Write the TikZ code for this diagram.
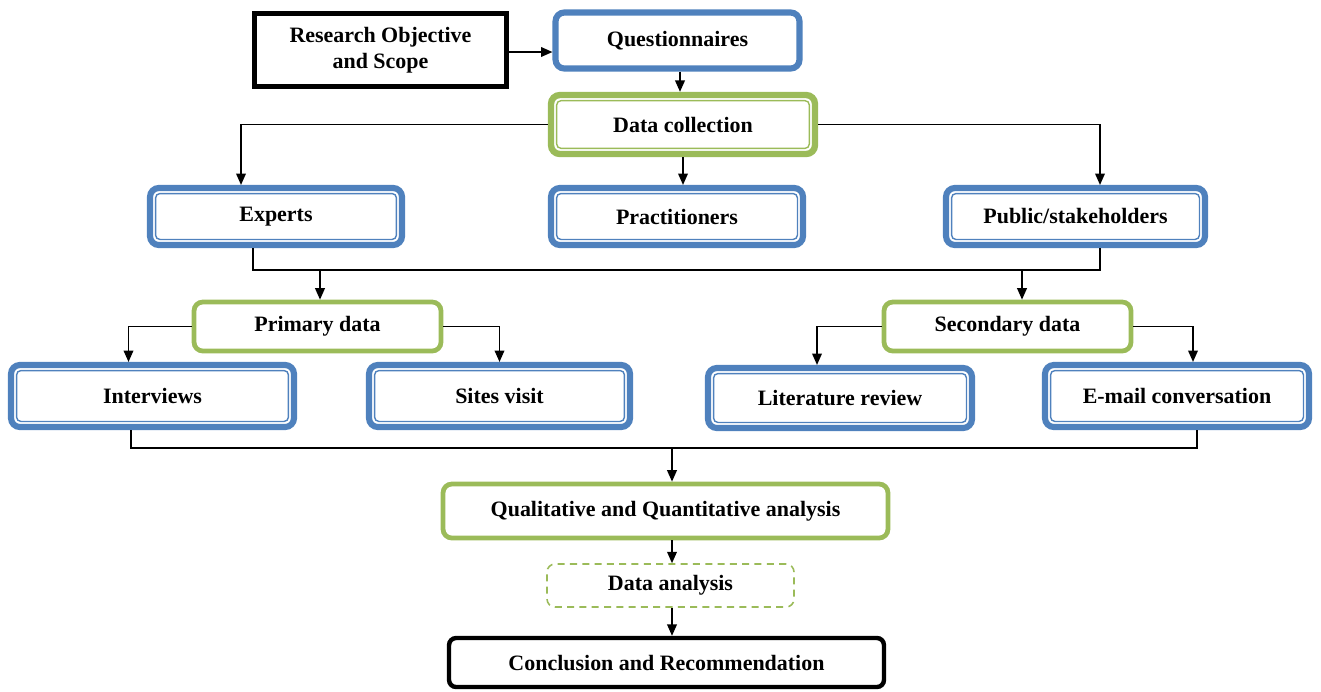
\documentclass[tikz,border=0pt]{standalone}
\usepackage{fontspec}
\setmainfont{Liberation Serif}
\usetikzlibrary{arrows.meta}
\definecolor{boxblue}{RGB}{79,129,189}
\definecolor{boxgreen}{RGB}{155,187,89}
\tikzset{
	box/.style={rectangle, inner sep=0pt, align=center, font=\fontsize{12.5}{14.5}\selectfont\bfseries},
	blackbox/.style={box, draw=black, line width=3pt},
	endbox/.style={box, draw=black, line width=2.5pt, rounded corners=4pt},
	bluebox/.style={box, draw=boxblue, line width=3.5pt, rounded corners=5pt},
	greenbox/.style={box, draw=boxgreen, line width=2.7pt, rounded corners=5pt},
	dashbox/.style={box, draw=boxgreen, line width=0.9pt, rounded corners=4.5pt, dash pattern=on 4pt off 3pt},
	inner line/.style 2 args={append after command={\pgfextra{\draw[draw=#1, line width=0.8pt, rounded corners=2.5pt]
		([shift={(#2,#2)}]\tikzlastnode.south west) rectangle ([shift={(-#2,-#2)}]\tikzlastnode.north east);}}},
	dblblue/.style={bluebox, inner line={boxblue}{4.9pt}},
	dblgreen/.style={greenbox, line width=3.6pt, inner line={boxgreen}{5pt}},
	link/.style={line width=0.9pt, -{Triangle[length=6.5pt,width=5.5pt]}},
	wire/.style={line width=0.9pt}
}
\begin{document}
\begin{tikzpicture}[x=0.02cm, y=-0.02cm]
	\useasboundingbox (0,0) rectangle (1321,691);
	% boxes
	\node[blackbox, minimum width=5.04cm, minimum height=1.46cm] (res) at (380.5,50) {Research Objective\\and Scope};
	\node[bluebox, minimum width=4.88cm, minimum height=1.12cm] (quest) at (677.5,40.5) {Questionnaires};
	\node[dblgreen, minimum width=5.28cm, minimum height=1.18cm] (coll) at (683,124.5) {Data collection};
	\node[dblblue, minimum width=5.04cm, minimum height=1.14cm] (exp) at (276,216.5) {Experts};
	\node[dblblue, minimum width=5.04cm, minimum height=1.14cm] (prac) at (677,216.5) {Practitioners};
	\node[dblblue, minimum width=5.18cm, minimum height=1.14cm] (pub) at (1075.5,216.5) {Public/stakeholders};
	\node[greenbox, minimum width=4.94cm, minimum height=0.98cm] (prim) at (317.5,326.5) {Primary data};
	\node[greenbox, minimum width=4.94cm, minimum height=0.98cm] (sec) at (1007.5,326.5) {Secondary data};
	\node[dblblue, minimum width=5.66cm, minimum height=1.24cm] (intv) at (152.5,396) {Interviews};
	\node[dblblue, minimum width=5.22cm, minimum height=1.24cm] (site) at (499.5,396) {Sites visit};
	\node[dblblue, minimum width=5.28cm, minimum height=1.2cm] (lit) at (840,398) {Literature review};
	\node[dblblue, minimum width=5.28cm, minimum height=1.24cm] (mail) at (1177,396) {E-mail conversation};
	\node[greenbox, minimum width=8.9cm, minimum height=1.08cm] (qual) at (665.5,511) {Qualitative and Quantitative analysis};
	\node[dashbox, minimum width=4.94cm, minimum height=0.86cm] (anal) at (670.5,585.5) {Data analysis};
	\node[endbox, minimum width=8.7cm, minimum height=0.98cm] (conc) at (666.5,662.5) {Conclusion and Recommendation};
	% junctions
	\coordinate (jexp) at (320,270);
	\coordinate (jpub) at (1022,270);
	\coordinate (jend) at (672,448);
	% connectors
	\draw[link] (res.east) ++(0,2) -- ([yshift=-0.23cm]quest.west);
	\draw[link] ([xshift=0.05cm]quest.south) -- ([xshift=0.05cm]quest.south |- coll.north);
	\draw[link] (coll.west) -| ([xshift=-0.7cm]exp.north);
	\draw[link] (coll.east) -| ([xshift=0.49cm]pub.north);
	\draw[link] (coll.south) -- (coll.south |- prac.north);
	\draw[wire] ([xshift=-0.46cm]exp.south) |- (jexp) -- (jpub) -| ([xshift=0.49cm]pub.south);
	\draw[link] (jexp) -- (jexp |- prim.north);
	\draw[link] (jpub) -- (jpub |- sec.north);
	\draw[link] (prim.west) -| ([xshift=-0.48cm]intv.north);
	\draw[link] (prim.east) -| (site.north);
	\draw[link] (sec.west) -| ([xshift=-0.46cm]lit.north);
	\draw[link] (sec.east) -| ([xshift=0.32cm]mail.north);
	\draw[wire] ([xshift=-0.43cm]intv.south) |- (jend) -| ([xshift=0.4cm]mail.south);
	\draw[link] (jend) -- (jend |- qual.north);
	\draw[link] (jend |- qual.south) -- (jend |- anal.north);
	\draw[link] (jend |- anal.south) -- (jend |- conc.north);
\end{tikzpicture}
\end{document}
